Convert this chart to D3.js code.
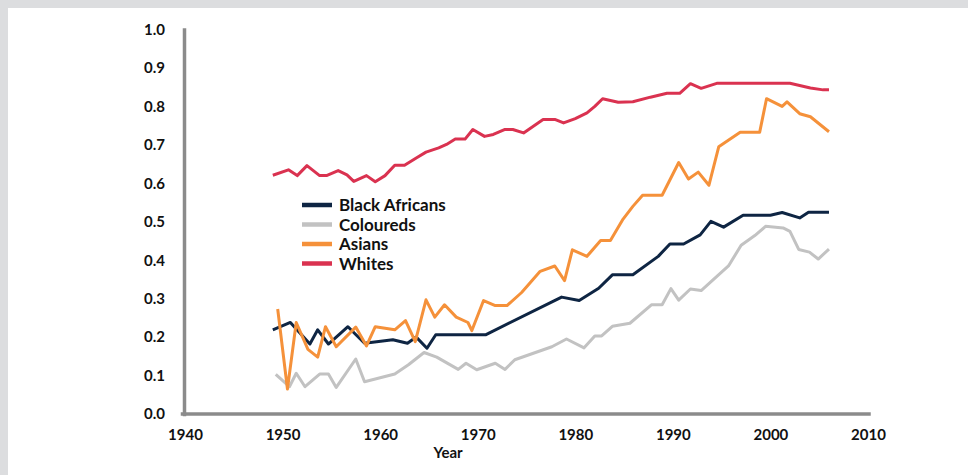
<!DOCTYPE html>
<html>
<head>
<meta charset="utf-8">
<script src="https://cdn.jsdelivr.net/npm/d3@7"></script>
<style>
  html, body { margin: 0; padding: 0; background: #ffffff; }
  svg { display: block; }
  text { font-family: Lato, "Open Sans", sans-serif; font-weight: 700; fill: #111; }
</style>
</head>
<body>
<svg id="chart" width="968" height="475"></svg>
<script>
// ---- Data ----
const xTicks = [1940, 1950, 1960, 1970, 1980, 1990, 2000, 2010];
const yTicks = [0, 0.1, 0.2, 0.3, 0.4, 0.5, 0.6, 0.7, 0.8, 0.9, 1.0];
const seriesNames = ["Black Africans", "Coloureds", "Asians", "Whites"];

const blackYears = [1949.0,1950.8,1952.8,1953.6,1954.7,1956.7,1958.4,1961.3,1962.8,1963.7,1964.8,1965.7,1970.8,1978.6,1980.4,1982.4,1983.8,1985.9,1988.5,1989.7,1991.1,1992.8,1993.9,1995.2,1997.2,2000.0,2001.2,2003.0,2003.9,2006.0];
const blackValues = [0.219,0.238,0.182,0.219,0.182,0.227,0.184,0.193,0.184,0.200,0.171,0.206,0.206,0.304,0.295,0.327,0.362,0.362,0.410,0.442,0.442,0.466,0.501,0.486,0.517,0.517,0.524,0.510,0.525,0.525];

const colouredYears = [1949.3,1950.7,1951.4,1952.3,1953.8,1954.7,1955.5,1957.5,1958.4,1960.1,1961.5,1962.9,1964.5,1965.8,1968.0,1968.8,1969.9,1971.8,1972.8,1973.8,1977.6,1979.1,1980.9,1982.0,1982.7,1983.8,1985.6,1987.8,1988.9,1989.8,1990.6,1991.8,1992.9,1995.7,1997.0,1998.4,1999.5,2001.3,2002.0,2002.9,2004.0,2004.9,2006.0];
const colouredValues = [0.103,0.071,0.106,0.071,0.104,0.104,0.069,0.143,0.084,0.095,0.104,0.128,0.160,0.148,0.116,0.132,0.115,0.132,0.116,0.141,0.175,0.195,0.172,0.203,0.203,0.228,0.236,0.284,0.284,0.326,0.296,0.325,0.321,0.385,0.439,0.464,0.488,0.484,0.475,0.428,0.421,0.403,0.429];

const asianYears = [1949.5,1950.5,1951.4,1952.6,1953.6,1954.4,1955.5,1957.5,1958.6,1959.5,1961.5,1962.6,1963.6,1964.7,1965.6,1966.6,1967.8,1969.0,1969.4,1970.6,1971.8,1973.0,1974.5,1976.4,1977.9,1978.9,1979.7,1981.2,1982.6,1983.6,1984.9,1985.9,1986.9,1988.9,1990.6,1991.6,1992.6,1993.7,1994.7,1996.9,1998.9,1999.6,2001.2,2001.7,2003.0,2004.1,2006.0];
const asianValues = [0.273,0.065,0.238,0.168,0.148,0.227,0.175,0.226,0.177,0.227,0.219,0.243,0.188,0.297,0.252,0.284,0.252,0.238,0.217,0.295,0.282,0.282,0.316,0.371,0.385,0.347,0.427,0.410,0.451,0.451,0.507,0.540,0.569,0.569,0.654,0.611,0.629,0.595,0.695,0.733,0.733,0.820,0.800,0.812,0.781,0.773,0.734];

const whiteYears = [1949.0,1950.6,1951.5,1952.5,1953.8,1954.5,1955.7,1956.6,1957.3,1958.6,1959.5,1960.5,1961.5,1962.5,1963.7,1964.7,1966.0,1966.8,1967.7,1968.7,1969.5,1970.7,1971.6,1972.8,1973.6,1974.7,1976.7,1977.9,1978.8,1980.0,1981.2,1982.0,1982.8,1984.4,1985.9,1987.7,1989.4,1990.7,1991.8,1992.9,1994.5,2002.0,2004.1,2005.4,2006.0];
const whiteValues = [0.621,0.635,0.620,0.646,0.620,0.620,0.633,0.622,0.605,0.620,0.604,0.620,0.647,0.647,0.666,0.681,0.692,0.701,0.715,0.715,0.740,0.722,0.727,0.740,0.740,0.731,0.766,0.766,0.757,0.768,0.783,0.800,0.820,0.811,0.812,0.824,0.834,0.834,0.859,0.847,0.860,0.860,0.848,0.843,0.843];

const seriesColors = ["#0e2543", "#c2c2c2", "#f5913a", "#da3250"];

// ---- Build ----
const series = [
  {name: seriesNames[0], years: blackYears, values: blackValues, color: seriesColors[0]},
  {name: seriesNames[1], years: colouredYears, values: colouredValues, color: seriesColors[1]},
  {name: seriesNames[2], years: asianYears, values: asianValues, color: seriesColors[2]},
  {name: seriesNames[3], years: whiteYears, values: whiteValues, color: seriesColors[3]}
];

const svg = d3.select("#chart");

// light gray frame (top and left)
svg.append("rect").attr("x", 0).attr("y", 0).attr("width", 968).attr("height", 8).attr("fill", "#dcdddf");
svg.append("rect").attr("x", 0).attr("y", 0).attr("width", 8).attr("height", 475).attr("fill", "#dcdddf");

const x = d3.scaleLinear().domain([1940, 2010]).range([185, 868]);
const y = d3.scaleLinear().domain([0, 1]).range([414, 29.5]);

// axes
const xAxis = d3.axisBottom(x).tickValues(xTicks).tickFormat(d3.format("d")).tickSize(0).tickSizeOuter(0).tickPadding(15);
const yAxis = d3.axisLeft(y).tickValues(yTicks).tickFormat(d3.format(".1f")).tickSize(0).tickSizeOuter(0).tickPadding(19);

const gx = svg.append("g").attr("transform", "translate(0,414)").call(xAxis);
const gy = svg.append("g").attr("transform", "translate(184,0)").call(yAxis);

[gx, gy].forEach(g => {
  g.select(".domain").attr("stroke", "#8b8b8b").attr("stroke-width", 3.5).attr("stroke-linecap", "square");
  g.selectAll("text").attr("font-size", 15).attr("font-family", "Lato, 'Open Sans', sans-serif").attr("font-weight", 700).attr("fill", "#111");
});
gx.select(".domain").attr("d", `M${x(1940) - 2.5},0H${x(2010) + 1}`);

// axis title
svg.append("text").attr("x", 448).attr("y", 458).attr("text-anchor", "middle")
  .attr("font-size", 15).text("Year");

// lines
const line = d3.line().x(d => x(d[0])).y(d => y(d[1]));
series.forEach(s => {
  const pts = s.years.map((yr, i) => [yr, s.values[i]]);
  svg.append("path").datum(pts)
    .attr("d", line)
    .attr("fill", "none")
    .attr("stroke", s.color)
    .attr("stroke-width", 3)
    .attr("stroke-linejoin", "round");
});

// legend
const legend = svg.append("g").attr("transform", "translate(302,205)");
series.forEach((s, i) => {
  const g = legend.append("g").attr("transform", `translate(0,${i * 19.5})`);
  g.append("line").attr("x1", 0).attr("x2", 30).attr("y1", 0).attr("y2", 0)
    .attr("stroke", s.color).attr("stroke-width", 4.5);
  g.append("text").attr("x", 37).attr("y", 0).attr("dy", "0.36em")
    .attr("font-size", 17).text(s.name);
});
</script>
</body>
</html>
